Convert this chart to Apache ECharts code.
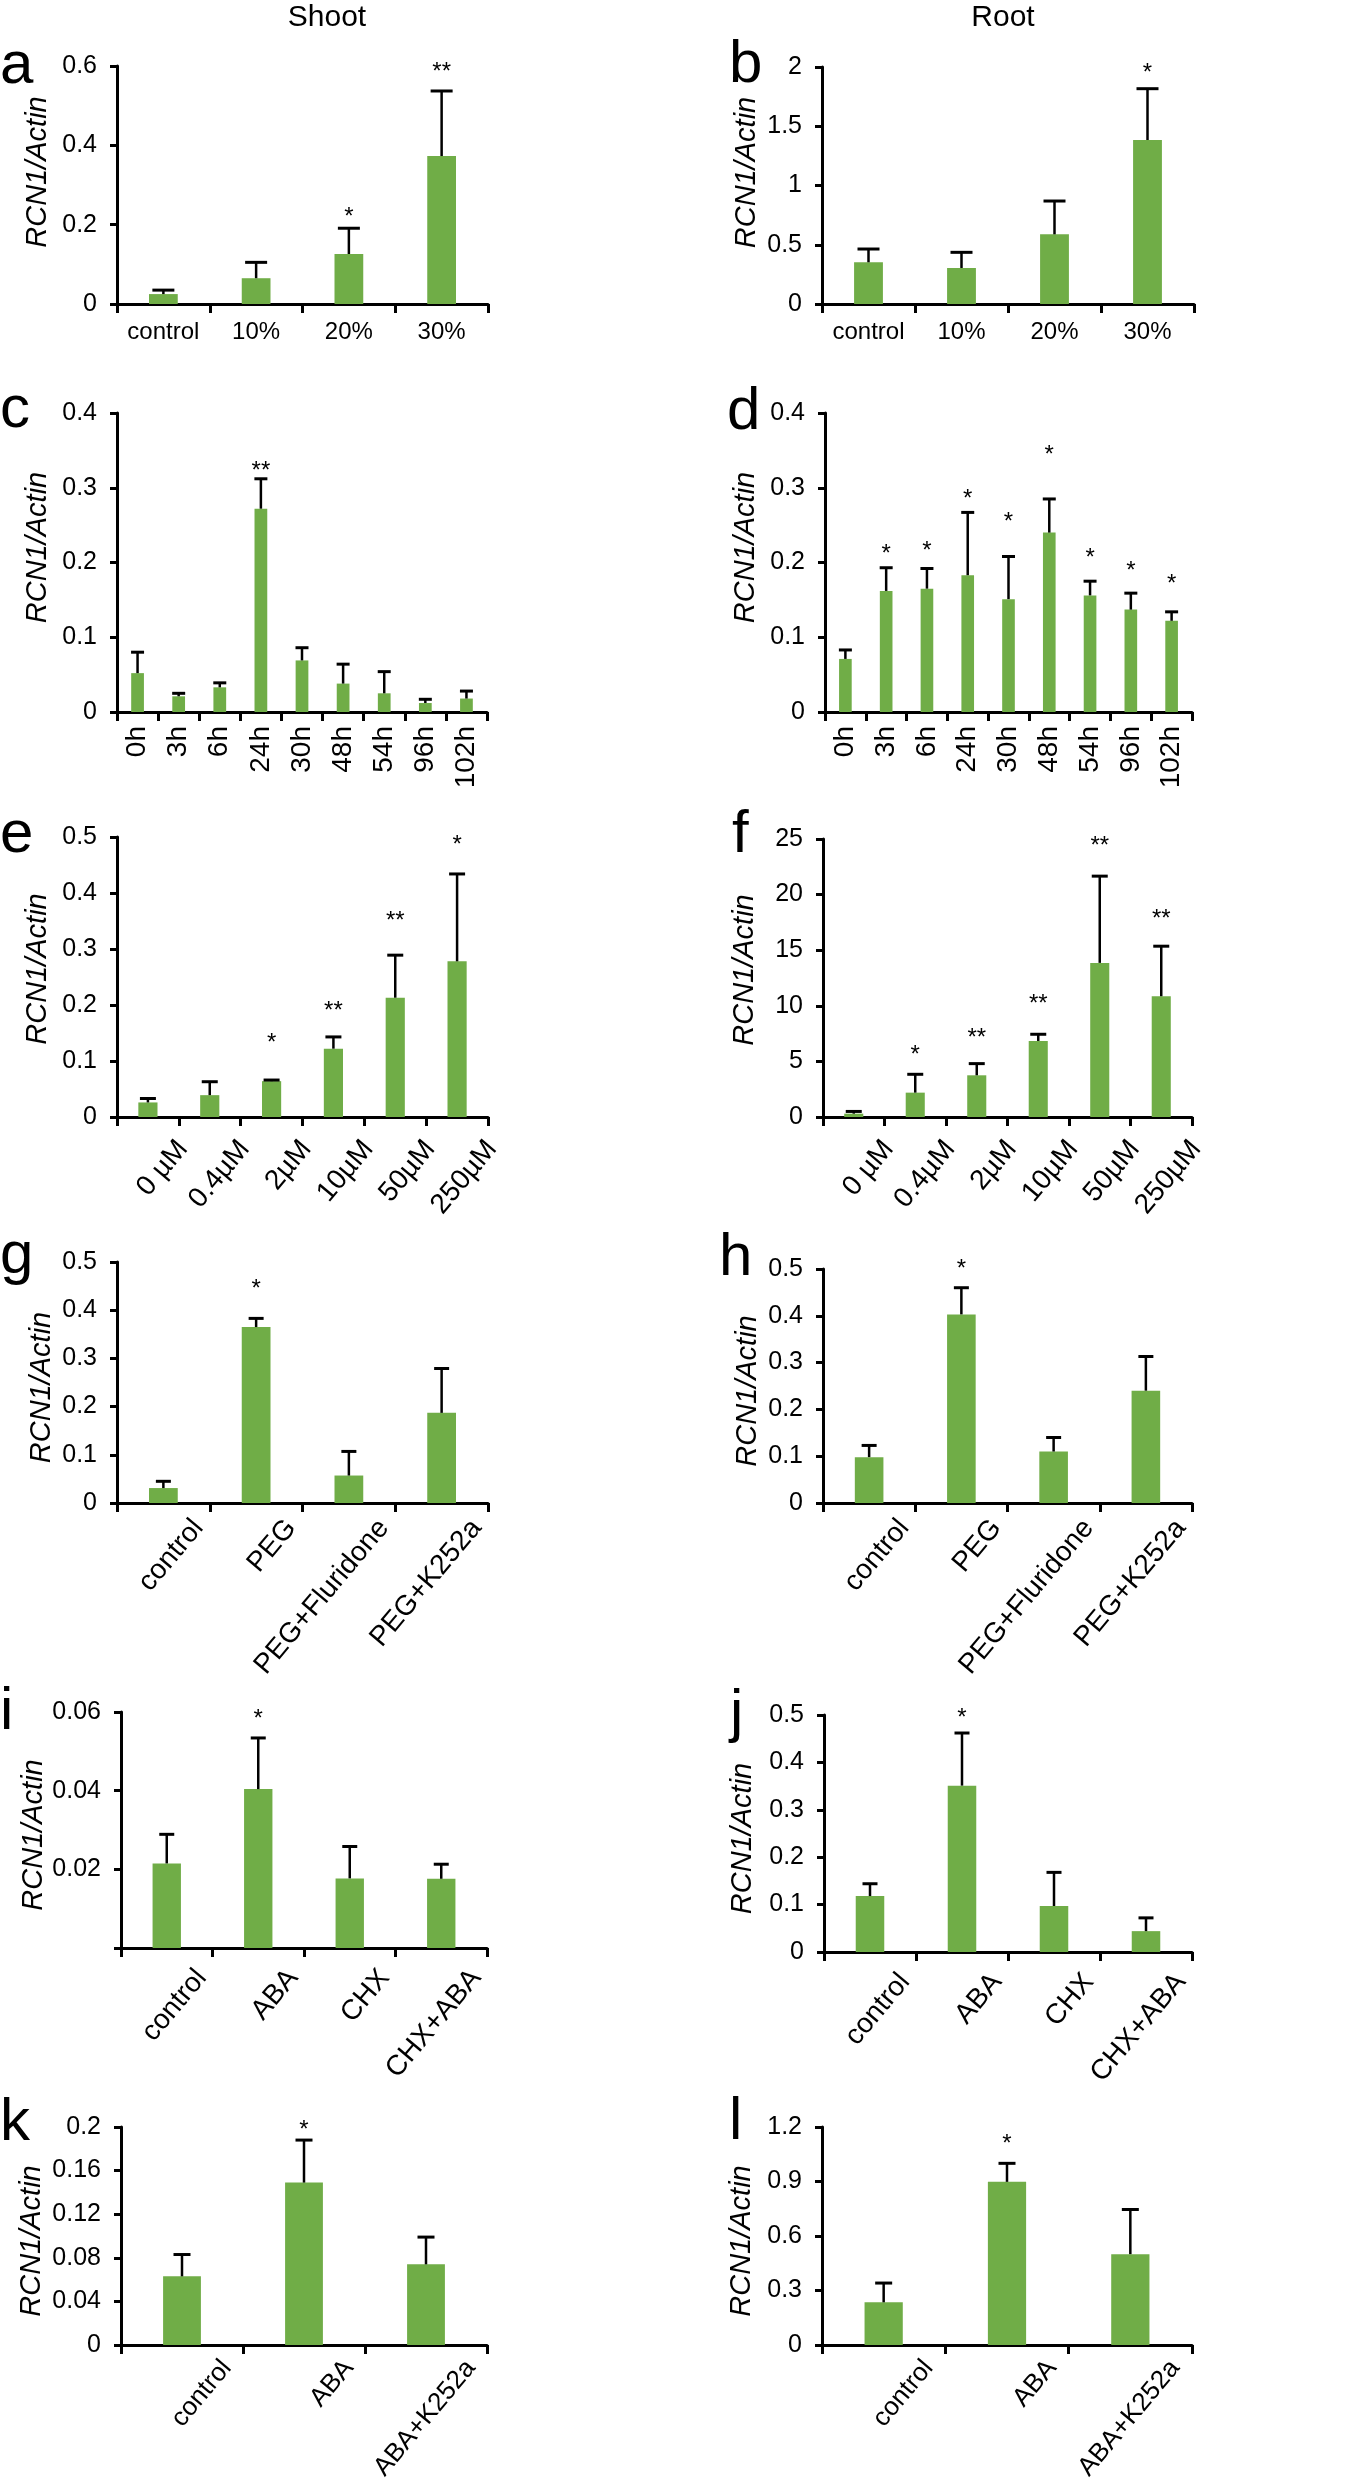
<!DOCTYPE html>
<html><head><meta charset="utf-8">
<script src="https://cdn.jsdelivr.net/npm/echarts@6/dist/echarts.min.js"></script>
<style>html,body{margin:0;padding:0;background:#fff}#c{width:1351px;height:2481px}</style>
</head><body><div id="c"></div>
<script>
// ---------------- DATA ----------------
const aCats = ['control','10%','20%','30%'];
const aMeans = [0.025,0.065,0.126,0.373];
const aSD = [0.010,0.040,0.065,0.164];
const aStars = ['','','*','**'];
const aStarY = [null,null,0.2325,0.600];
const aTicks = [0,0.2,0.4,0.6];

const bCats = ['control','10%','20%','30%'];
const bMeans = [0.352,0.304,0.588,1.384];
const bSD = [0.112,0.132,0.281,0.433];
const bStars = ['','','','*'];
const bStarY = [null,null,null,2.0];
const bTicks = [0,0.5,1,1.5,2];

const cCats = ['0h','3h','6h','24h','30h','48h','54h','96h','102h'];
const cMeans = [0.052,0.021,0.033,0.272,0.069,0.038,0.025,0.012,0.018];
const cSD = [0.028,0.004,0.006,0.040,0.017,0.026,0.029,0.005,0.010];
const cStars = ['','','','**','','','','',''];
const cStarY = [null,null,null,0.3295,null,null,null,null,null];
const cTicks = [0,0.1,0.2,0.3,0.4];

const dCats = ['0h','3h','6h','24h','30h','48h','54h','96h','102h'];
const dMeans = [0.071,0.162,0.165,0.183,0.151,0.240,0.156,0.137,0.122];
const dSD = [0.012,0.031,0.027,0.084,0.057,0.045,0.019,0.022,0.012];
const dStars = ['','*','*','*','*','*','*','*','*'];
const dStarY = [null,0.219,0.223,0.293,0.262,0.351,0.213,0.196,0.179];
const dTicks = [0,0.1,0.2,0.3,0.4];

const eCats = ['0 µM','0.4µM','2µM','10µM','50µM','250µM'];
const eMeans = [0.026,0.039,0.064,0.122,0.213,0.278];
const eSD = [0.007,0.024,0.002,0.021,0.076,0.156];
const eStars = ['','','*','**','**','*'];
const eStarY = [null,null,0.143,0.199,0.360,0.496];
const eTicks = [0,0.1,0.2,0.3,0.4,0.5];

const fCats = ['0 µM','0.4µM','2µM','10µM','50µM','250µM'];
const fMeans = [0.3,2.19,3.75,6.84,13.86,10.86];
const fSD = [0.2,1.65,1.05,0.6,7.8,4.5];
const fStars = ['','*','**','**','**','**'];
const fStarY = [null,6.06,7.65,10.71,24.84,18.3];
const fTicks = [0,5,10,15,20,25];

const gCats = ['control','PEG','PEG+Fluridone','PEG+K252a'];
const gMeans = [0.031,0.365,0.057,0.187];
const gSD = [0.014,0.018,0.050,0.092];
const gStars = ['','*','',''];
const gStarY = [null,0.455,null,null];
const gTicks = [0,0.1,0.2,0.3,0.4,0.5];

const hCats = ['control','PEG','PEG+Fluridone','PEG+K252a'];
const hMeans = [0.098,0.403,0.110,0.240];
const hSD = [0.025,0.057,0.030,0.073];
const hStars = ['','*','',''];
const hStarY = [null,0.511,null,null];
const hTicks = [0,0.1,0.2,0.3,0.4,0.5];

const iCats = ['control','ABA','CHX','CHX+ABA'];
const iMeans = [0.0215,0.0404,0.0177,0.0176];
const iSD = [0.0074,0.0130,0.0081,0.0037];
const iStars = ['','*','',''];
const iStarY = [null,0.0597,null,null];
const iTicks = [0,0.02,0.04,0.06];
const iTickLabels = ['','0.02','0.04','0.06'];

const jCats = ['control','ABA','CHX','CHX+ABA'];
const jMeans = [0.118,0.351,0.097,0.044];
const jSD = [0.026,0.111,0.071,0.028];
const jStars = ['','*','',''];
const jStarY = [null,0.506,null,null];
const jTicks = [0,0.1,0.2,0.3,0.4,0.5];

const kCats = ['control','ABA','ABA+K252a'];
const kMeans = [0.063,0.149,0.074];
const kSD = [0.020,0.039,0.025];
const kStars = ['','*',''];
const kStarY = [null,0.2024,null];
const kTicks = [0,0.04,0.08,0.12,0.16,0.2];

const lCats = ['control','ABA','ABA+K252a'];
const lMeans = [0.235,0.898,0.500];
const lSD = [0.106,0.102,0.246];
const lStars = ['','*',''];
const lStarY = [null,1.136,null];
const lTicks = [0,0.3,0.6,0.9,1.2];

const colTitles = ['Shoot','Root'];
const yName = 'RCN1/Actin';

// ---------------- LAYOUT / STYLE ----------------
const FONT = "'Liberation Sans', Arial, Helvetica, sans-serif";
const GREEN = '#70AD47';
const panels = [
  {id:'a', cats:aCats, m:aMeans, sd:aSD, st:aStars, sy:aStarY, t:aTicks,
   L:{x0:117,y0:66,x1:488,y1:304, rot:0, xm:16, ng:65, np:[0,0,0,26], cap:22, lx:0, ly:86}},
  {id:'b', cats:bCats, m:bMeans, sd:bSD, st:bStars, sy:bStarY, t:bTicks,
   L:{x0:822,y0:67,x1:1194,y1:304, rot:0, xm:16, ng:61, np:[0,0,0,26], cap:22, lx:729, ly:85}},
  {id:'c', cats:cCats, m:cMeans, sd:cSD, st:cStars, sy:cStarY, t:cTicks,
   L:{x0:117,y0:413,x1:487,y1:712, rot:90, xm:14, ng:65, np:[0,0,0,30], cap:13, lx:0, ly:430}},
  {id:'d', cats:dCats, m:dMeans, sd:dSD, st:dStars, sy:dStarY, t:dTicks,
   L:{x0:825,y0:413,x1:1192,y1:712, rot:90, xm:14, ng:65, np:[0,0,0,30], cap:13, lx:727, ly:432}},
  {id:'e', cats:eCats, m:eMeans, sd:eSD, st:eStars, sy:eStarY, t:eTicks,
   L:{x0:117,y0:837,x1:488,y1:1117, rot:50, xfs:28, xm:-2, lh:91, ng:65, np:[0,0,0,16], cap:16, lx:0, ly:855}},
  {id:'f', cats:fCats, m:fMeans, sd:fSD, st:fStars, sy:fStarY, t:fTicks,
   L:{x0:823,y0:839,x1:1192,y1:1117, rot:50, xfs:28, xm:-2, lh:91, ng:64, np:[0,0,0,16], cap:16, lx:732, ly:855}},
  {id:'g', cats:gCats, m:gMeans, sd:gSD, st:gStars, sy:gStarY, t:gTicks,
   L:{x0:117,y0:1262,x1:488,y1:1503, rot:50, xfs:28, xm:-9, lh:91, ng:61, np:[0,10,0,0], cap:15, lx:0, ly:1276}},
  {id:'h', cats:hCats, m:hMeans, sd:hSD, st:hStars, sy:hStarY, t:hTicks,
   L:{x0:823,y0:1269,x1:1192,y1:1503, rot:50, xfs:28, xm:-9, lh:91, ng:61, np:[0,10,0,0], cap:15, lx:719, ly:1278}},
  {id:'i', cats:iCats, m:iMeans, sd:iSD, st:iStars, sy:iStarY, t:iTicks, tl:iTickLabels,
   L:{x0:121,y0:1712,x1:487,y1:1948, rot:50, xfs:28, xm:-4, lh:91, ng:69, np:[0,10,0,0], cap:15, lx:0, ly:1732}},
  {id:'j', cats:jCats, m:jMeans, sd:jSD, st:jStars, sy:jStarY, t:jTicks,
   L:{x0:824,y0:1715,x1:1192,y1:1952, rot:50, xfs:28, xm:-4, lh:91, ng:67, np:[0,10,0,0], cap:15, lx:730, ly:1734}},
  {id:'k', cats:kCats, m:kMeans, sd:kSD, st:kStars, sy:kStarY, t:kTicks,
   L:{x0:121,y0:2127,x1:487,y1:2345, rot:50, xfs:26, xm:-19, lh:117, ng:75, np:[0,10,0,0], cap:17, lx:0, ly:2143}},
  {id:'l', cats:lCats, m:lMeans, sd:lSD, st:lStars, sy:lStarY, t:lTicks,
   L:{x0:822,y0:2127,x1:1192,y1:2345, rot:50, xfs:26, xm:-19, lh:117, ng:66, np:[0,10,0,0], cap:17, lx:729, ly:2142}}
];

const grid = [], xAxis = [], yAxis = [], series = [], graphic = [];

panels.forEach((p, i) => {
  const L = p.L;
  grid.push({left:L.x0, top:L.y0, width:L.x1-L.x0, height:L.y1-L.y0, containLabel:false, outerBoundsMode:'none'});
  const xl = {interval:0, color:'#000', fontFamily:FONT, fontSize: L.xfs || (L.rot ? 28 : 24), margin:L.xm, rotate:L.rot, hideOverlap:false};
  if (L.lh) { xl.lineHeight = L.lh; xl.verticalAlign = 'top'; }
  xAxis.push({type:'category', gridIndex:i, data:p.cats, boundaryGap:true,
    axisLine:{show:true, lineStyle:{color:'#000', width:3}},
    axisTick:{show:true, length:9, inside:false, lineStyle:{color:'#000', width:3}},
    axisLabel:xl, splitLine:{show:false}});
  const labels = p.tl || p.t.map(v => String(v));
  yAxis.push({type:'value', gridIndex:i, min:p.t[0], max:p.t[p.t.length-1], interval:p.t[1]-p.t[0],
    splitLine:{show:false},
    axisLine:{show:true, lineStyle:{color:'#000', width:3}},
    axisTick:{show:true, length:7, inside:false, lineStyle:{color:'#000', width:3}},
    axisLabel:{color:'#000', fontSize:25, fontFamily:FONT, margin:20,
      formatter:(v) => { const k = p.t.findIndex(t => Math.abs(t - v) < 1e-9); return k >= 0 ? labels[k] : ''; }},
    name:yName, nameLocation:'middle', nameGap:L.ng,
    nameTextStyle:{fontStyle:'italic', fontSize:29, fontFamily:FONT, color:'#000', padding:L.np}});
  series.push({type:'bar', xAxisIndex:i, yAxisIndex:i, data:p.m, barWidth:'31%',
    itemStyle:{color:GREEN}, silent:true, z:2});
  series.push({type:'custom', xAxisIndex:i, yAxisIndex:i, silent:true, z:3,
    data:p.m.map((m, k) => [k, m, m + p.sd[k]]),
    renderItem:(params, api) => {
      const k = api.value(0);
      const p0 = api.coord([k, api.value(1)]);
      const p1 = api.coord([k, api.value(2)]);
      const c = L.cap / 2;
      return {type:'group', children:[
        {type:'line', shape:{x1:p0[0], y1:p0[1], x2:p1[0], y2:p1[1]}, style:{stroke:'#000', lineWidth:2.5}},
        {type:'line', shape:{x1:p1[0]-c, y1:p1[1], x2:p1[0]+c, y2:p1[1]}, style:{stroke:'#000', lineWidth:3}}
      ]};
    }});
  series.push({type:'custom', xAxisIndex:i, yAxisIndex:i, silent:true, z:4,
    data:p.sy.map((y, k) => [k, y == null ? 0 : y]),
    renderItem:(params, api) => {
      const k = api.value(0);
      if (!p.st[k]) return null;
      const pt = api.coord([k, api.value(1)]);
      return {type:'text', style:{text:p.st[k], x:pt[0], y:pt[1] + 6, align:'center', verticalAlign:'middle',
        fontSize:24, fontFamily:FONT, fill:'#000'}};
    }});
  graphic.push({type:'text', left:L.lx, top:L.ly - 20 - 30, silent:true,
    style:{text:p.id, fontSize:60, fontFamily:FONT, fill:'#000'}});
});

graphic.push({type:'text', x:327, y:18, silent:true, style:{text:colTitles[0], fontSize:30, fontFamily:FONT, fill:'#000', align:'center', verticalAlign:'middle'}});
graphic.push({type:'text', x:1003, y:18, silent:true, style:{text:colTitles[1], fontSize:30, fontFamily:FONT, fill:'#000', align:'center', verticalAlign:'middle'}});

const chart = echarts.init(document.getElementById('c'), null, {renderer:'canvas'});
chart.setOption({animation:false, backgroundColor:'#fff', grid, xAxis, yAxis, series, graphic});
</script>
</body></html>
